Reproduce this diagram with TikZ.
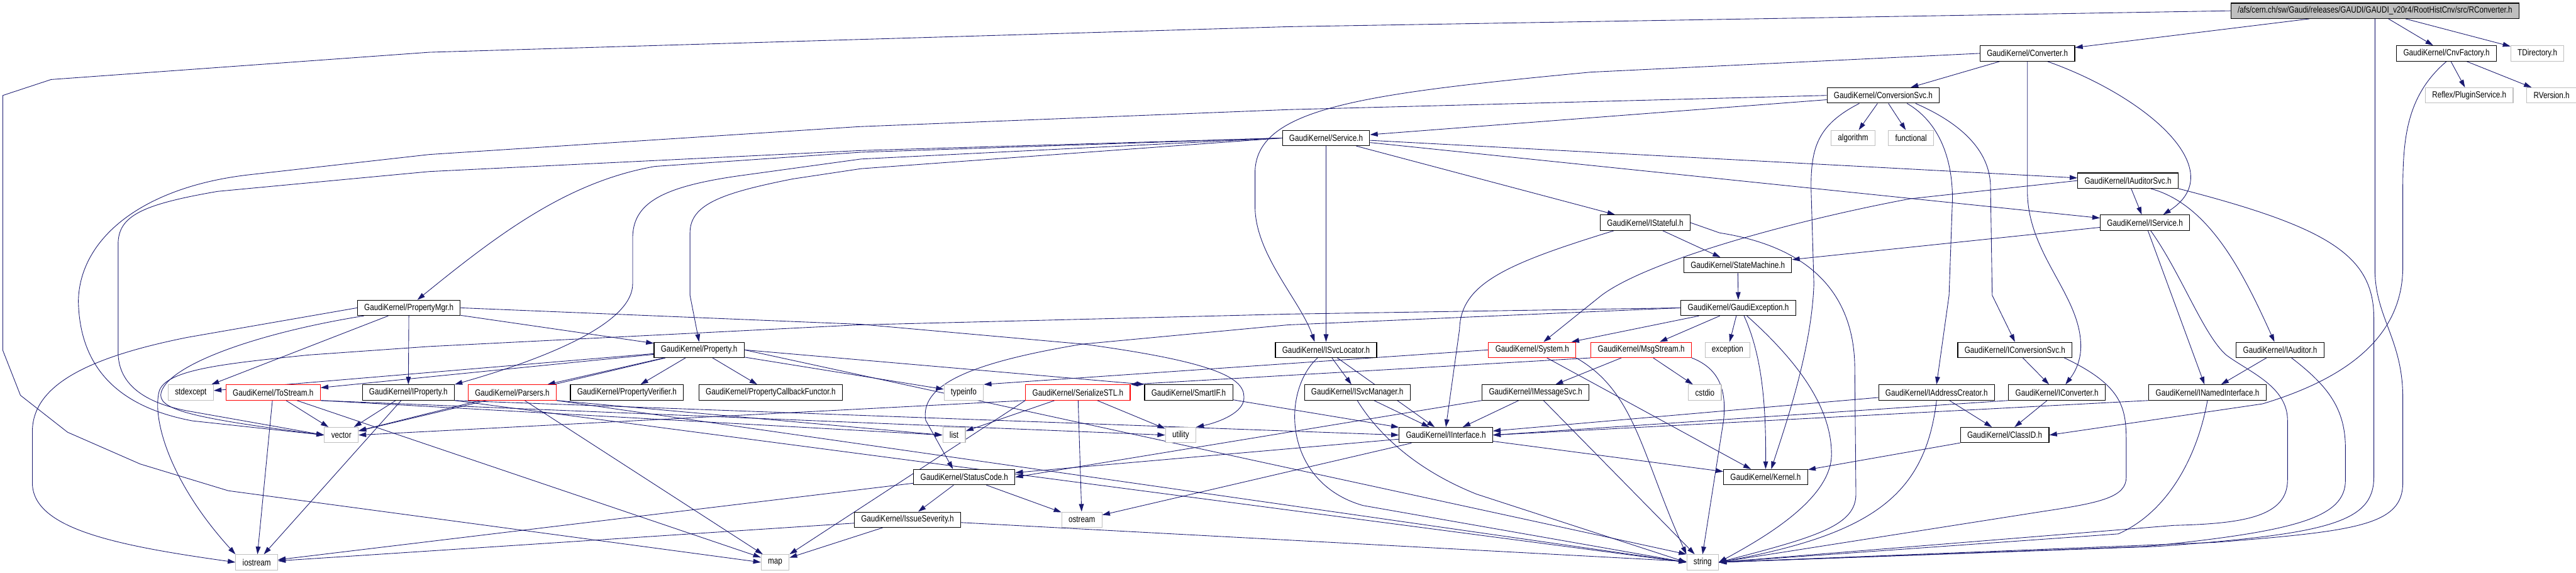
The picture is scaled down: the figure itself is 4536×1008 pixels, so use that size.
\documentclass[tikz,border=0pt]{standalone}
\usepackage{fontspec}
\newfontfamily\dotfont[FakeStretch=0.82]{Liberation Sans}
\usepackage{tikz}
\usetikzlibrary{
  arrows.meta,
  backgrounds
}
\definecolor{dxblue}{HTML}{191970}
\definecolor{dxgray}{HTML}{BFBFBF}

\begin{document}
\begin{tikzpicture}[
  x=0.02cm, y=-0.02cm,
  every node/.style={font=\dotfont\fontsize{9pt}{10pt}\selectfont, fill=white,
    minimum height=0.54cm, inner xsep=0.24cm, inner ysep=0pt, line width=0.7pt},
  hdr/.style={draw=black},
  syshdr/.style={draw=dxgray},
  cuthdr/.style={draw=red},
  mainhdr/.style={draw=black, fill=dxgray},
  dep/.style={draw=dxblue, line width=0.55pt, -{Triangle[length=0.27cm, width=0.17cm]}}
]
\useasboundingbox (0,0) rectangle (4536,1008);

  \node[mainhdr] (root) at (4182,19) {/afs/cern.ch/sw/Gaudi/releases/GAUDI/GAUDI\_v20r4/RootHistCnv/src/RConverter.h};
  \node[hdr] (conv) at (3570,94) {GaudiKernel/Converter.h};
  \node[hdr] (cnvfac) at (4308,94) {GaudiKernel/CnvFactory.h};
  \node[syshdr] (tdir) at (4468,94) {TDirectory.h};
  \node[hdr] (convsvc) at (3316,168) {GaudiKernel/ConversionSvc.h};
  \node[syshdr] (plugin) at (4348,168) {Reflex/PluginService.h};
  \node[syshdr] (rver) at (4493,168) {RVersion.h};
  \node[hdr] (service) at (2335,243) {GaudiKernel/Service.h};
  \node[syshdr] (algo) at (3263,243) {algorithm};
  \node[syshdr] (func) at (3365,243) {functional};
  \node[hdr] (iaudsvc) at (3747,318) {GaudiKernel/IAuditorSvc.h};
  \node[hdr] (istateful) at (2897,392) {GaudiKernel/IStateful.h};
  \node[hdr] (iservice) at (3777,392) {GaudiKernel/IService.h};
  \node[hdr] (statem) at (3060,467) {GaudiKernel/StateMachine.h};
  \node[hdr] (propmgr) at (720,542) {GaudiKernel/PropertyMgr.h};
  \node[hdr] (gexc) at (3061,542) {GaudiKernel/GaudiException.h};
  \node[hdr] (property) at (1231,616) {GaudiKernel/Property.h};
  \node[hdr] (isvcloc) at (2335,616) {GaudiKernel/ISvcLocator.h};
  \node[cuthdr] (system) at (2698,616) {GaudiKernel/System.h};
  \node[cuthdr] (msgstream) at (2890,616) {GaudiKernel/MsgStream.h};
  \node[syshdr] (exception) at (3042,616) {exception};
  \node[hdr] (iconvsvc) at (3548,616) {GaudiKernel/IConversionSvc.h};
  \node[hdr] (iauditor) at (4015,616) {GaudiKernel/IAuditor.h};
  \node[syshdr] (stdexcept) at (336,691) {stdexcept};
  \node[cuthdr] (tostream) at (481,691) {GaudiKernel/ToStream.h};
  \node[hdr] (iproperty) at (719,691) {GaudiKernel/IProperty.h};
  \node[cuthdr] (parsers) at (902,691) {GaudiKernel/Parsers.h};
  \node[hdr] (propver) at (1104,691) {GaudiKernel/PropertyVerifier.h};
  \node[hdr] (propcb) at (1357,691) {GaudiKernel/PropertyCallbackFunctor.h};
  \node[syshdr] (typeinfo) at (1697,691) {typeinfo};
  \node[cuthdr] (serial) at (1898,691) {GaudiKernel/SerializeSTL.h};
  \node[hdr] (smartif) at (2093,691) {GaudiKernel/SmartIF.h};
  \node[hdr] (isvcmgr) at (2390,691) {GaudiKernel/ISvcManager.h};
  \node[hdr] (imsgsvc) at (2704,691) {GaudiKernel/IMessageSvc.h};
  \node[syshdr] (cstdio) at (3002,691) {cstdio};
  \node[hdr] (iaddr) at (3410,691) {GaudiKernel/IAddressCreator.h};
  \node[hdr] (iconverter) at (3622,691) {GaudiKernel/IConverter.h};
  \node[hdr] (inamed) at (3887,691) {GaudiKernel/INamedInterface.h};
  \node[syshdr] (vector) at (601,766) {vector};
  \node[syshdr] (list) at (1680,766) {list};
  \node[syshdr] (utility) at (2079,766) {utility};
  \node[hdr] (iinterface) at (2546,766) {GaudiKernel/IInterface.h};
  \node[hdr] (classid) at (3530,766) {GaudiKernel/ClassID.h};
  \node[hdr] (statuscode) at (1698,840) {GaudiKernel/StatusCode.h};
  \node[hdr] (kernel) at (3109,840) {GaudiKernel/Kernel.h};
  \node[hdr] (issue) at (1598,915) {GaudiKernel/IssueSeverity.h};
  \node[syshdr] (ostream) at (1905,915) {ostream};
  \node[syshdr] (iostream) at (452,990) {iostream};
  \node[syshdr] (map) at (1365,990) {map};
  \node[syshdr] (string) at (2998,990) {string};

\begin{scope}[on background layer]
  \fill[white] (0,0) rectangle (4536,1008);

  \draw[dep] (root) -- (conv);
  \draw[dep] (root) -- (cnvfac);
  \draw[dep] (root) -- (tdir);
  \draw[dep] (root.west) -- (2268,47) -- (756,92) -- (90,140) -- (5,168) -- (5,617) -- (36,696)
    -- (119,761) -- (247,817) -- (402,864) -- (map.west);
  \draw[dep] (root.south) -- (4182,480) .. controls (4184,560) and (4231,600) .. (4231,700)
    -- (4231,850) .. controls (4231,925) and (4150,935) .. (3900,955) -- (string.east);

  \draw[dep] (cnvfac) -- (plugin);
  \draw[dep] (cnvfac) -- (rver);
  \draw[dep] (cnvfac.south) .. controls (4235,170) and (4231,250) .. (4231,340) -- (4231,470)
    .. controls (4231,600) and (4120,670) .. (3984,711) -- (classid.east);

  \draw[dep] (conv) -- (convsvc);
  \draw[dep] (conv.south) -- (3570,340) .. controls (3572,450) and (3664,520) .. (3664,610)
    .. controls (3664,640) and (3650,660) .. ([xshift=0.3cm]iconverter.north);
  \draw[dep] ([xshift=0.7cm]conv.south) .. controls (3780,170) and (3930,300) .. ([xshift=0.64cm]iservice.north);
  \draw[dep] (conv.west) -- (2801,127) .. controls (2400,165) and (2215,190) .. (2210,300) -- (2210,367)
    .. controls (2212,450) and (2290,530) .. ([xshift=-0.4cm]isvcloc.north);

  \draw[dep] (convsvc) -- (service);
  \draw[dep] (convsvc) -- (algo);
  \draw[dep] (convsvc) -- (func);
  \draw[dep] (convsvc.west) -- (2268,193) -- (1512,223) -- (756,272) -- (436,308)
    .. controls (250,330) and (140,420) .. (138,530) .. controls (140,640) and (200,715) .. (339,741) -- (vector.west);
  \draw[dep] ([xshift=-0.84cm]convsvc.south) .. controls (3200,220) and (3189,260) .. (3189,330) -- (3194,500)
    .. controls (3190,620) and (3140,760) .. ([xshift=0.2cm]kernel.north);
  \draw[dep] ([xshift=0.84cm]convsvc.south) .. controls (3415,215) and (3438,280) .. (3438,350) -- (3432,520) -- (iaddr.north);
  \draw[dep] ([xshift=1.14cm]convsvc.south) .. controls (3460,220) and (3505,270) .. (3505,330) -- (3508,520) -- (iconvsvc.north);

  \draw[dep] (service) -- (iaudsvc);
  \draw[dep] (service) -- (iservice);
  \draw[dep] (service) -- (istateful);
  \draw[dep] (service) -- (isvcloc);
  \draw[dep] (service.west) -- (1516,268) -- (1153,293) .. controls (1000,320) and (880,410) .. ([xshift=0.3cm]propmgr.north);
  \draw[dep] (service.west) -- (1516,280) -- (1298,310) .. controls (1160,330) and (1114,360) .. (1114,420) -- (1114,500)
    .. controls (1114,560) and (1000,620) .. (iproperty.north east);
  \draw[dep] (service.west) -- (1516,297) -- (1396,315) .. controls (1270,340) and (1215,360) .. (1215,410) -- (1215,520) -- (property.north);
  \draw[dep] (service.west) -- (1516,265) -- (756,302) -- (383,337) .. controls (250,360) and (208,380) .. (208,430) -- (208,620)
    .. controls (208,680) and (260,712) .. (339,725) -- (vector.west);

  \draw[dep] (iaudsvc) -- (iservice);
  \draw[dep] ([xshift=0.8cm]iaudsvc.south) .. controls (3890,360) and (3950,480) .. ([xshift=-0.2cm]iauditor.north);
  \draw[dep] (iaudsvc.west) -- (3363,350) .. controls (3150,390) and (2900,460) .. (2820,520) -- ([xshift=0.4cm]system.north);
  \draw[dep] (iaudsvc.south east) .. controls (4100,400) and (4180,450) .. (4180,560) -- (4180,840)
    .. controls (4180,920) and (4100,940) .. (3800,962) -- (string.east);

  \draw[dep] (istateful) -- (statem);
  \draw[dep] (istateful.east) -- (3028,410) .. controls (3190,435) and (3266,520) .. (3266,650) -- (3268,870)
    .. controls (3268,925) and (3200,945) .. (string.east);
  \draw[dep] ([xshift=-1.1cm]istateful.south) .. controls (2650,465) and (2572,500) .. (2570,580) -- (iinterface.north);

  \draw[dep] (iservice) -- (statem);
  \draw[dep] (iservice) -- (inamed);
  \draw[dep] ([xshift=0.2cm]iservice.south) .. controls (3840,480) and (3880,590) .. (3920,625)
    .. controls (3960,655) and (4028,680) .. (4028,740) -- (4028,845) .. controls (4028,910) and (3950,922) .. (3828,925) -- (string.east);

  \draw[dep] (statem) -- (gexc);
  \draw[dep] (gexc) -- (exception);
  \draw[dep] ([xshift=0.2cm]gexc.south) .. controls (3100,620) and (3110,700) .. (kernel.north);
  \draw[dep] (gexc) -- (system);
  \draw[dep] (gexc) -- (msgstream);
  \draw[dep] ([xshift=0.3cm]gexc.south) .. controls (3170,640) and (3225,720) .. (3225,800)
    .. controls (3225,880) and (3100,950) .. (string.east);
  \draw[dep] (gexc.west) -- (2268,572) -- (1905,606) .. controls (1700,640) and (1620,680) .. (1630,740)
    -- ([xshift=-0.4cm]statuscode.north);
  \draw[dep] (gexc.west) -- (2268,553) -- (1512,572) -- (756,610) -- (543,625) .. controls (400,640) and (290,650) .. (280,690)
    .. controls (268,740) and (300,850) .. (iostream.north west);

  \draw[dep] (propmgr) -- (property);
  \draw[dep] (propmgr) -- (iproperty);
  \draw[dep] (propmgr) -- (stdexcept);
  \draw[dep] ([xshift=0.24cm]propmgr.south west) .. controls (460,585) and (300,640) .. (284,690)
    .. controls (275,720) and (330,735) .. (vector.west);
  \draw[dep] (propmgr.west) -- (330,594) .. controls (150,630) and (57,680) .. (57,760) -- (57,850)
    .. controls (57,930) and (200,960) .. (iostream.west);
  \draw[dep] (propmgr.east) -- (1516,571) -- (1909,606) .. controls (2160,640) and (2195,670) .. (2190,705)
    .. controls (2185,730) and (2140,745) .. (utility.north east);

  \draw[dep] (property) -- (parsers);
  \draw[dep] (property) -- (propver);
  \draw[dep] (property) -- (propcb);
  \draw[dep] (property) -- (tostream);
  \draw[dep] (property) -- (vector);
  \draw[dep] (property) -- (stdexcept);
  \draw[dep] (property) -- (typeinfo);
  \draw[dep] (property.east) -- (smartif.north west);
  \draw[dep] (property.east) -- (string.north west);

  \draw[dep] (iproperty.south east) -- (iinterface.west);
  \draw[dep] (iproperty.south east) -- (string.west);
  \draw[dep] (iproperty) -- (vector);
  \draw[dep] (iproperty) -- (iostream);

  \draw[dep] (tostream) -- (iostream);
  \draw[dep] (tostream) -- (vector);
  \draw[dep] (tostream) -- (map);
  \draw[dep] (tostream.south east) -- (list.west);
  \draw[dep] (tostream.south east) -- (utility.west);

  \draw[dep] (parsers) -- (vector);
  \draw[dep] (parsers) -- (map);
  \draw[dep] (parsers.south east) -- (list.west);
  \draw[dep] (parsers.south east) -- (string.west);

  \draw[dep] (serial.south west) -- (vector.east);
  \draw[dep] (serial) -- (list);
  \draw[dep] (serial) -- (ostream);
  \draw[dep] (serial) -- (utility);
  \draw[dep] (serial.south west) -- (map.north east);

  \draw[dep] (smartif) -- (iinterface);
  \draw[dep] (isvcloc) -- (isvcmgr);
  \draw[dep] (isvcloc) -- (iinterface);
  \draw[dep] ([xshift=-0.3cm]isvcloc.south) .. controls (2255,690) and (2260,850) .. (2400,890) -- (string.west);
  \draw[dep] (isvcmgr) -- (iinterface);
  \draw[dep] (isvcmgr.south) .. controls (2430,770) and (2500,830) .. (2600,870) -- (string.west);

  \draw[dep] (msgstream) -- (imsgsvc);
  \draw[dep] (msgstream) -- (cstdio);
  \draw[dep] (msgstream.south west) -- (serial.north east);
  \draw[dep] (msgstream.south east) .. controls (3030,650) and (3040,690) .. (3035,740) -- (string.north);
  \draw[dep] (imsgsvc) -- (iinterface);
  \draw[dep] (imsgsvc) -- (string);
  \draw[dep] (imsgsvc.south west) -- (statuscode.east);

  \draw[dep] (system) -- (kernel);
  \draw[dep] (system.south east) .. controls (2880,690) and (2890,800) .. (string.north west);
  \draw[dep] (system.west) -- (typeinfo.north east);

  \draw[dep] (iconvsvc) -- (iconverter);
  \draw[dep] ([xshift=1.74cm]iconvsvc.south) .. controls (3740,680) and (3744,720) .. (3744,780) -- (3744,840)
    .. controls (3744,875) and (3700,885) .. (3600,900) -- (string.east);
  \draw[dep] (iauditor) -- (inamed);
  \draw[dep] ([xshift=0.4cm]iauditor.south) .. controls (4100,680) and (4130,720) .. (4130,790) -- (4130,845)
    .. controls (4130,910) and (4050,935) .. (3780,962) -- (string.east);

  \draw[dep] (iaddr) -- (classid);
  \draw[dep] (iaddr) -- (iinterface);
  \draw[dep] (iaddr.south) .. controls (3390,870) and (3300,940) .. (string.east);
  \draw[dep] (iconverter) -- (classid);
  \draw[dep] (iconverter.south west) -- (iinterface.east);
  \draw[dep] (inamed.south west) -- (iinterface.east);
  \draw[dep] (inamed.south) .. controls (3870,800) and (3820,900) .. (3730,940) -- (string.east);

  \draw[dep] (classid) -- (kernel);
  \draw[dep] (iinterface) -- (kernel);
  \draw[dep] (iinterface) -- (statuscode);
  \draw[dep] (iinterface) -- (ostream);
  \draw[dep] (statuscode) -- (issue);
  \draw[dep] (statuscode) -- (ostream);
  \draw[dep] (statuscode) -- (iostream);
  \draw[dep] (issue) -- (map);
  \draw[dep] (issue) -- (iostream);
  \draw[dep] (issue) -- (string);
\end{scope}

\end{tikzpicture}
\end{document}
